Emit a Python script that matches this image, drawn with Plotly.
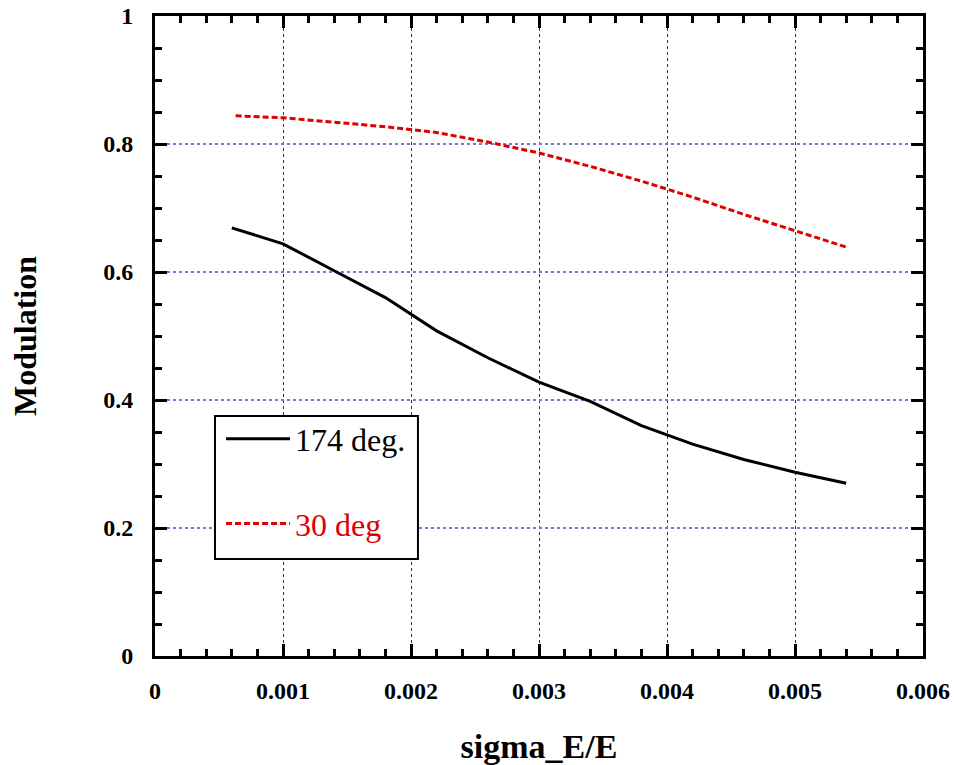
import plotly.graph_objects as go

# Data
x_174 = [0.0006, 0.001, 0.0014, 0.0018, 0.0022, 0.0026, 0.003, 0.0034, 0.0038, 0.0042, 0.0046, 0.005, 0.0054]
y_174 = [0.669, 0.644, 0.602, 0.560, 0.508, 0.466, 0.428, 0.398, 0.360, 0.331, 0.307, 0.287, 0.270]

x_30 = [0.00063, 0.001, 0.0014, 0.0018, 0.0022, 0.0026, 0.003, 0.0034, 0.0038, 0.0042, 0.0046, 0.005, 0.0054]
y_30 = [0.844, 0.841, 0.834, 0.827, 0.818, 0.803, 0.786, 0.765, 0.742, 0.717, 0.690, 0.664, 0.639]

x_tickvals = [0, 0.001, 0.002, 0.003, 0.004, 0.005, 0.006]
x_ticktext = ["0", "0.001", "0.002", "0.003", "0.004", "0.005", "0.006"]
y_tickvals = [0, 0.2, 0.4, 0.6, 0.8, 1.0]
y_ticktext = ["0", "0.2", "0.4", "0.6", "0.8", "1"]

serif = "Liberation Serif, Times New Roman, serif"

fig = go.Figure()
fig.add_trace(go.Scatter(
    x=x_174, y=y_174, mode="lines", name="174 deg.",
    line=dict(color="black", width=3), legendgroup="a"))
fig.add_trace(go.Scatter(
    x=x_30, y=y_30, mode="lines",
    name="<span style='color:#dd0000'>30 deg</span>",
    line=dict(color="#dd0000", width=3, dash="6px,3px"), legendgroup="b"))

axis_common = dict(
    showline=True, linecolor="black", linewidth=3, mirror="allticks",
    ticks="inside", ticklen=12, tickwidth=3, tickcolor="black",
    showgrid=True, griddash="dot", zeroline=False, automargin=False,
    tickfont=dict(family=serif, size=24, color="black", weight="bold"),
)

fig.update_xaxes(
    **axis_common, range=[0, 0.006], tickmode="array",
    tickvals=x_tickvals, ticktext=x_ticktext,
    gridcolor="#2020cc", gridwidth=1,
    minor=dict(dtick=0.0002, ticks="inside", ticklen=7, tickwidth=2.5, tickcolor="black", showgrid=False),
    ticklabelstandoff=11,
    title=dict(text="sigma_E/E", font=dict(family=serif, size=34, color="black", weight="bold"), standoff=34),
)
fig.update_yaxes(
    **axis_common, range=[0, 1], tickmode="array",
    tickvals=y_tickvals, ticktext=y_ticktext,
    gridcolor="#7575e8", gridwidth=1.5,
    minor=dict(dtick=0.05, ticks="inside", ticklen=7, tickwidth=2.5, tickcolor="black", showgrid=False),
    ticklabelstandoff=14,
    title=dict(text="Modulation", font=dict(family=serif, size=32, color="black", weight="bold"), standoff=58),
)

# legend frame (drawn as a paper-referenced box behind the legend entries)
fig.add_shape(type="rect", xref="paper", yref="paper",
              x0=0.0781, x1=0.3424, y0=0.1516, y1=0.375,
              line=dict(color="black", width=2), fillcolor="white", layer="above")

fig.update_layout(
    width=955, height=765,
    margin=dict(l=155, r=32, t=16, b=109),
    paper_bgcolor="white", plot_bgcolor="white",
    showlegend=True,
    legend=dict(
        x=0.086, y=0.382, xanchor="left", yanchor="top",
        bgcolor="rgba(0,0,0,0)", borderwidth=0,
        font=dict(family=serif, size=32, color="black"),
        tracegroupgap=40, itemwidth=64,
    ),
)

fig.write_html("out.html")
